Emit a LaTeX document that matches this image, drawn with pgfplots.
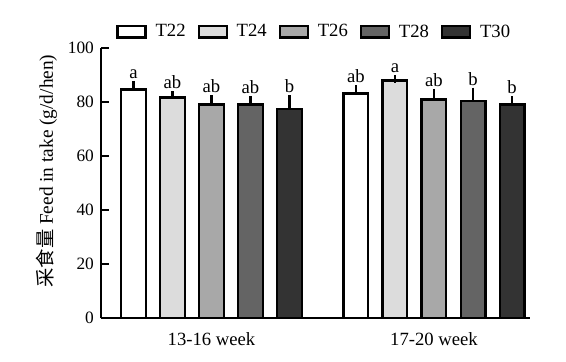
\documentclass[border=0pt]{standalone}
\usepackage{pgfplots}
\pgfplotsset{compat=1.18}
\usepackage{fontspec}
\setmainfont{Liberation Serif}
\newfontfamily\cjk{Noto Sans CJK SC}
\definecolor{cA}{RGB}{255,255,255}
\definecolor{cB}{RGB}{220,220,220}
\definecolor{cC}{RGB}{168,168,168}
\definecolor{cD}{RGB}{100,100,100}
\definecolor{cE}{RGB}{51,51,51}
\begin{document}
\begin{tikzpicture}
\path[use as bounding box] (0,0) rectangle (424.5pt,270.75pt);
\begin{axis}[
  at={(75.75pt,32.25pt)}, anchor=south west,
  scale only axis, width=321.75pt, height=202.5pt,
  xmin=-0.4966, xmax=1.4315, ymin=0, ymax=100,
  axis lines=left,
  axis line style={-, line width=1.5pt, black},
  ytick={0,20,40,60,80,100},
  tick align=inside, major tick length=6pt,
  y tick style={line width=1.5pt, black},
  x tick style={draw=none},
  xtick={0,1}, xticklabels={13-16 week,17-20 week},
  /pgf/number format/assume math mode=true,
  yticklabel style={font=\fontsize{13}{15}\selectfont, xshift=-1.8pt},
  xticklabel style={font=\fontsize{14}{16}\selectfont, yshift=-1.5pt},
  ylabel={{\cjk 采食量} Feed in take (g/d/hen)},
  ylabel style={at={(axis description cs:-0.1266,0.544)}, anchor=center, font=\fontsize{14.5}{16}\selectfont},
  clip=false,
  ybar, bar width=18.45pt,
  every axis plot/.append style={bar shift=0pt, draw=black, line width=1.8pt},
  error bars/y dir=plus, error bars/y explicit,
  error bars/error bar style={line width=1.6pt, black},
  error bars/error mark options={mark size=3pt, line width=1.6pt, black},
  legend style={at={(axis description cs:0.498,1.06)}, anchor=center, draw=none, fill=none,
    font=\fontsize{14}{16}\selectfont,
    /tikz/every odd column/.append style={column sep=4.5pt},
    /tikz/every even column/.append style={column sep=7pt}},
  legend columns=5,
  legend image code/.code={\draw[#1, line width=1.8pt] (0pt,-4.2pt) rectangle (21pt,4.2pt);},
]
\addplot[fill=cA] coordinates {(-0.3506,84.7) +- (0,1.6) (0.6494,83.2) +- (0,1.5)};
\addplot[fill=cB] coordinates {(-0.1753,81.7) +- (0,0.8) (0.8247,87.9) +- (0,0.5)};
\addplot[fill=cC] coordinates {(0,79.1) +- (0,1.9) (1,81.0) +- (0,2.4)};
\addplot[fill=cD] coordinates {(0.1753,79.1) +- (0,1.6) (1.1753,80.3) +- (0,3.5)};
\addplot[fill=cE] coordinates {(0.3506,77.3) +- (0,3.7) (1.3506,79.1) +- (0,1.5)};
\legend{T22,T24,T26,T28,T30}
\begin{scope}[every node/.style={anchor=base, yshift=5pt, inner sep=0pt, font=\fontsize{14}{16}\selectfont}]
\node at (axis cs:-0.3506,86.3) {a};
\node at (axis cs:-0.1753,82.5) {ab};
\node at (axis cs:0,81.0) {ab};
\node at (axis cs:0.1753,80.7) {ab};
\node at (axis cs:0.3506,81.0) {b};
\node at (axis cs:0.6494,84.7) {ab};
\node at (axis cs:0.8247,88.4) {a};
\node at (axis cs:1,83.4) {ab};
\node at (axis cs:1.1753,83.8) {b};
\node at (axis cs:1.3506,80.6) {b};
\end{scope}
\end{axis}
\end{tikzpicture}
\end{document}
